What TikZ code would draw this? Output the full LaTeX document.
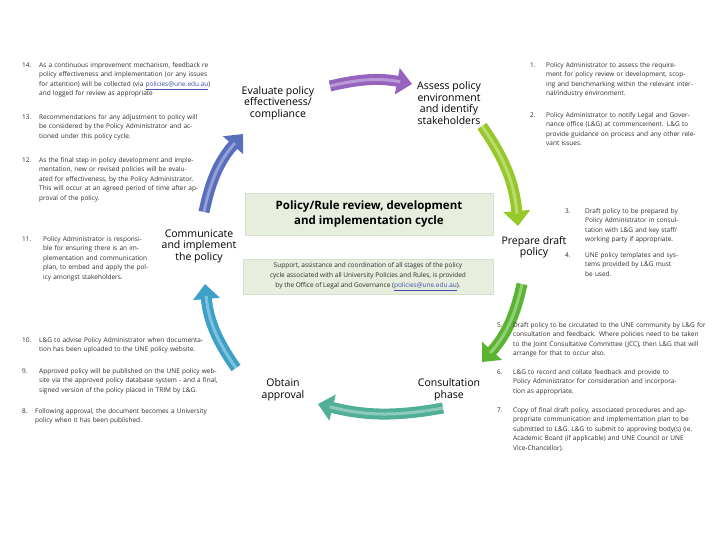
\documentclass[tikz,border=0pt]{standalone}
\usepackage{fontspec}
\setmainfont{Open Sans}
\usetikzlibrary{arrows.meta, positioning}

\definecolor{boxfill}{RGB}{231,238,222}
\definecolor{boxline}{RGB}{214,224,204}
\definecolor{linkblue}{RGB}{60,80,170}
\definecolor{txt}{RGB}{45,45,45}
\definecolor{purpleA}{RGB}{150,100,190}
\definecolor{limeA}{RGB}{150,200,40}
\definecolor{greenA}{RGB}{90,180,50}
\definecolor{tealA}{RGB}{80,175,150}
\definecolor{cyanA}{RGB}{60,160,200}
\definecolor{blueA}{RGB}{90,110,190}

\newcommand{\numitem}[3]{\hangindent=#1\hangafter=1\noindent\makebox[#1][l]{#2}#3\par}
\newcommand{\mail}{\textcolor{linkblue}{\underline{policies@une.edu.au}}}

\tikzset{
  stage/.style={align=center, font=\fontsize{10.5}{11.5}\selectfont, text=black},
  note/.style={anchor=north west, inner sep=0pt, align=left, text=txt,
    font=\fontsize{6.5}{9.6}\selectfont},
  infobox/.style={draw=boxline, fill=boxfill, line width=1pt, align=center},
  cyc/.style={line width=11pt, draw=#1,
    -{Triangle[length=15pt, width=26pt]}},
  shine/.style={line width=3pt, draw=white, opacity=0.35, shorten >=12pt},
}

\begin{document}
\begin{tikzpicture}[x=1pt, y=-1pt]
  \useasboundingbox (0,0) rectangle (714,552);

  % centre boxes
  \node[infobox, minimum width=248pt, minimum height=42pt,
    font=\fontsize{11.5}{15}\selectfont\bfseries] (title) at (369,214)
    {Policy/Rule review, development\\and implementation cycle};
  \node[infobox, minimum width=250pt, minimum height=32pt,
    font=\fontsize{6.5}{9.8}\selectfont, text=txt] (support) at (368,277)
    {Support, assistance and coordination of all stages of the policy\\
     cycle associated with all University Policies and Rules, is provided\\
     by the Office of Legal and Governance (\mail).};

  % stages
  \node[stage] (assess) at (449,103) {Assess policy\\environment\\and identify\\stakeholders};
  \node[stage] (draft) at (534,247) {Prepare draft\\policy};
  \node[stage] (consult) at (449,390) {Consultation\\phase};
  \node[stage] (approve) at (283,390) {Obtain\\approval};
  \node[stage] (implement) at (199,246) {Communicate\\and implement\\the policy};
  \node[stage] (evaluate) at (278,103) {Evaluate  policy\\effectiveness/\\compliance};

  % arrow ends
  \coordinate (a1s) at (330,86);  \coordinate (a1e) at (412,84);
  \coordinate (a2s) at (482,126); \coordinate (a2e) at (518,226);
  \coordinate (a3s) at (522,284); \coordinate (a3e) at (482,362);
  \coordinate (a4s) at (443,408); \coordinate (a4e) at (318,404);
  \coordinate (a5s) at (236,368); \coordinate (a5e) at (205,284);
  \coordinate (a6s) at (204,212); \coordinate (a6e) at (243,134);

  % cycle arrows
  \draw[cyc=purpleA] (a1s) to[bend left=12] (a1e);
  \draw[shine] (a1s) to[bend left=12] (a1e);
  \draw[cyc=limeA] (a2s) to[bend left=15] (a2e);
  \draw[shine] (a2s) to[bend left=15] (a2e);
  \draw[cyc=greenA] (a3s) to[bend left=15] (a3e);
  \draw[shine] (a3s) to[bend left=15] (a3e);
  \draw[cyc=tealA] (a4s) to[bend left=12] (a4e);
  \draw[shine] (a4s) to[bend left=12] (a4e);
  \draw[cyc=cyanA] (a5s) to[bend left=15] (a5e);
  \draw[shine] (a5s) to[bend left=15] (a5e);
  \draw[cyc=blueA] (a6s) to[bend left=15] (a6e);
  \draw[shine] (a6s) to[bend left=15] (a6e);

  % left column
  \node[note, text width=190pt] (n14) at (22,62) {\numitem{17pt}{14.}{As a continuous improvement mechanism, feedback re policy effectiveness and implementation (or any issues for attention) will be collected (via \mail) and logged for review as appropriate}};
  \node[note, text width=176pt] (n13) at (22,114) {\numitem{17pt}{13.}{Recommendations for any adjustment to policy will be considered by the Policy Administrator and actioned under this policy cycle.}};
  \node[note, text width=176pt] (n12) at (22,157) {\numitem{17pt}{12.}{As the final step in policy development and implementation, new or revised policies will be evaluated for effectiveness, by the Policy Administrator.  This will occur at an agreed period of time after approval of the policy.}};
  \node[note, text width=130pt] (n11) at (22,236) {\numitem{21pt}{11.}{Policy Administrator is responsible for ensuring there is an implementation and communication plan, to embed and apply the policy amongst stakeholders.}};
  \node[note, text width=190pt] (n10) at (22,337) {\numitem{17pt}{10.}{L\&G to advise Policy Administrator when documentation has been uploaded to the UNE policy website.}};
  \node[note, text width=200pt] (n9) at (22,368) {\numitem{17pt}{9.}{Approved policy will be published on the UNE policy website via the approved policy database system - and a final, signed version of the policy placed in TRIM by L\&G.}};
  \node[note, text width=190pt] (n8) at (22,408) {\numitem{13pt}{8.}{Following approval, the document becomes a University policy when it has been published.}};

  % right column
  \node[note, text width=165pt] (n1) at (530,62) {\numitem{16pt}{1.}{Policy Administrator to assess the requirement for policy review or development, scoping and benchmarking within the relevant internal/industry environment.}};
  \node[note, text width=168pt] (n2) at (530,112) {\numitem{16pt}{2.}{Policy Administrator to notify Legal and Governance office (L\&G) at commencement.  L\&G to provide guidance on process and any other relevant issues.}};
  \node[note, text width=122pt] (n3) at (565,208) {\numitem{20pt}{3.}{Draft policy to be prepared by Policy Administrator in consultation with L\&G and key staff/ working party if appropriate.}};
  \node[note, text width=115pt] (n4) at (565,252) {\numitem{20pt}{4.}{UNE policy templates and systems provided by L\&G must be used.}};
  \node[note, text width=210pt] (n5) at (497,322) {\numitem{16pt}{5.}{Draft policy to be circulated to the UNE community by L\&G for consultation and feedback.   Where policies need to be taken to the Joint Consultative Committee (JCC), then L\&G that will arrange for that to occur also.}};
  \node[note, text width=180pt] (n6) at (497,369) {\numitem{16pt}{6.}{L\&G to record and collate feedback and provide to Policy Administrator for consideration and incorporation as appropriate.}};
  \node[note, text width=200pt] (n7) at (497,407) {\numitem{16pt}{7.}{Copy of final draft policy, associated procedures and appropriate communication and implementation plan to be submitted to L\&G.  L\&G to submit to approving body(s)  (ie. Academic Board (if applicable) and UNE Council or UNE Vice-Chancellor).}};

\end{tikzpicture}
\end{document}
